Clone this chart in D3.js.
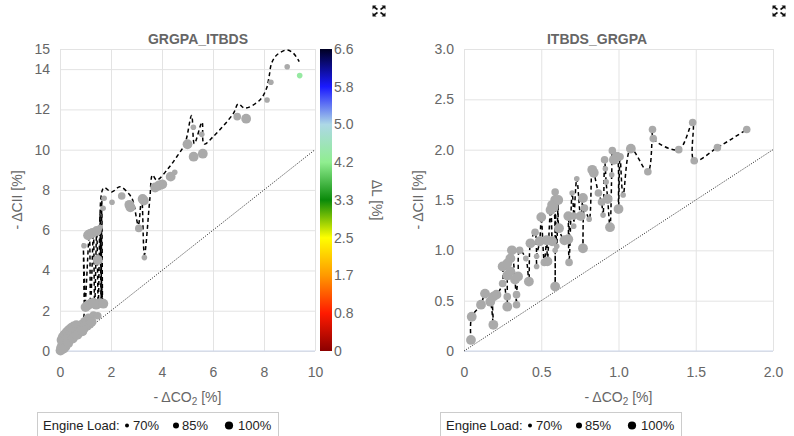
<!DOCTYPE html>
<meta charset="utf-8">
<head>
<style>
  *{margin:0;padding:0}
  body{width:794px;height:436px;background:#fff;overflow:hidden}
  svg{font-family:"Liberation Sans",Arial,sans-serif;display:block}
  .ax path{display:none}
  .ax line{stroke:#e3e3e3}
  .ax text{fill:#666;font-size:14px}
  .cb path,.cb line{display:none}
  .cb text{fill:#666;font-size:14px}
</style>
</head>
<body>
<svg id="chart" width="794" height="436"></svg>
<script src="https://cdn.jsdelivr.net/npm/d3@7"></script>
<script>
// ---- left panel: GRGPA_ITBDS ----
var leftX = [8.91,8.27,8.12,6.95,7.30,5.23,5.56,5.00,5.24,5.60,4.50,4.34,4.01,3.88,3.73,3.24,3.29,2.76,2.72,2.42,
  2.04,1.73,1.69,3.09,3.31,1.57,1.10,1.18,1.27,1.44,0.94,1.48,1.00,1.08,1.20,1.30,1.42,1.57,1.70,1.31,1.48,
  0.02,0.04,0.07,0.09,0.12,0.14,0.17,0.20,0.22,0.25,0.28,0.30,0.33,0.36,0.39,0.42,0.45,0.48,0.52,0.55,0.58,
  0.62,0.66,0.70,0.75,0.80,0.86,0.92,0.98,1.05,1.12,0.60,0.38,0.25,0.85,
  0.06,0.11,0.18,0.27,0.35,0.44,0.53,0.64,0.74,0.84,0.95,1.06,1.16,1.24,0.15,0.32,0.50,0.68,0.88];
var leftY = [14.12,13.35,12.47,11.64,11.54,11.11,10.76,10.27,9.65,9.80,8.88,8.66,8.28,8.22,8.12,7.55,7.47,7.14,7.26,7.70,
  7.39,7.59,7.09,6.09,4.64,6.14,5.75,5.82,5.86,5.96,5.23,4.52,2.18,2.26,2.35,2.40,2.30,2.38,2.35,1.79,1.75,
  0.02,0.15,0.08,0.32,0.18,0.45,0.28,0.55,0.36,0.68,0.48,0.78,0.58,0.88,0.66,1.02,0.74,0.95,0.82,1.08,0.88,
  1.15,0.96,1.08,1.20,1.25,1.30,1.35,1.45,1.52,1.62,0.75,0.50,0.20,1.10,
  0.55,0.70,0.82,0.95,1.05,1.15,1.22,1.28,1.02,1.05,1.15,1.25,1.35,1.45,0.12,0.38,0.62,0.80,0.98];
var leftLoad = [70,70,70,85,100,70,70,100,100,100,70,100,100,100,100,100,100,100,100,85,
  70,70,70,85,70,70,100,100,100,100,70,100,100,100,100,100,100,100,100,85,85,
  100,100,100,100,100,100,100,100,100,100,100,100,100,100,100,100,100,100,100,100,100,
  100,100,100,100,100,100,100,100,100,100,85,85,85,85,
  100,100,100,100,100,100,100,100,100,100,100,100,100,100,100,100,100,100,100];
// points that carry a Delta L value
var leftDLX = [9.40];
var leftDLY = [13.68];
var leftDLLoad = [70];
var leftDL = [4.3];
// dashed trend line
var leftLineX = [0,0.3,0.6,0.88,0.91,0.97,1.15,1.2,1.31,1.36,1.44,1.5,1.57,1.61,1.64,1.67,1.71,2.03,2.35,2.68,
  2.85,3.07,3.2,3.31,3.52,3.63,3.79,4.25,4.58,4.9,5.16,5.27,5.57,5.65,6.01,6.8,6.99,7.25,7.84,8.1,8.2,8.3,8.5,8.89,9.15,9.38];
var leftLineY = [0,0.45,0.85,1.3,5.4,2.1,5.8,2.2,5.9,2.2,6.0,2.3,6.8,2.3,7.5,2.3,8.1,7.9,8.16,7.83,
  7.5,6.26,7.66,4.77,7.5,8.74,8.49,9.08,9.65,10.3,11.7,10.3,11.36,10.28,10.65,11.8,12.27,12.06,12.47,13.05,13.63,14.3,14.7,14.95,14.79,14.37];
var leftXTicks = [0,2,4,6,8,10];
var leftYTicks = [0,2,4,6,8,10,12,14,15];

// ---- right panel: ITBDS_GRGPA ----
var rightX = [0.045,0.05,0.11,0.136,0.17,0.19,0.19,0.21,0.25,0.28,0.28,0.34,0.34,0.28,0.25,0.30,0.33,0.35,0.42,0.31,
  0.30,0.28,0.36,0.40,0.47,0.47,0.43,0.46,0.49,0.50,0.52,0.54,0.59,0.535,0.57,0.59,0.60,0.615,0.56,0.58,
  0.59,0.59,0.57,0.61,0.65,0.675,0.675,0.68,0.70,0.71,0.71,0.73,0.755,0.77,0.77,0.78,0.81,0.83,0.84,0.87,
  0.89,0.90,0.915,0.92,0.91,0.93,0.945,0.956,0.96,0.97,0.99,1.00,1.01,1.03,1.08,1.19,1.22,1.225,1.39,1.48,
  1.49,1.64,1.83];
var rightY = [0.11,0.34,0.46,0.57,0.49,0.26,0.54,0.56,0.67,0.44,0.54,0.46,0.56,0.75,0.84,0.79,0.71,0.74,0.69,1.00,
  0.92,0.87,1.00,0.92,0.84,0.94,1.07,1.18,1.09,1.33,0.88,0.89,0.64,1.10,1.09,1.00,1.04,1.22,1.40,1.43,
  1.50,1.58,1.45,1.50,1.10,1.11,1.34,0.88,1.57,1.34,1.24,1.71,1.34,1.52,1.02,1.42,1.31,1.80,1.77,1.57,
  1.48,1.35,1.81,1.68,1.90,1.51,1.23,1.75,1.99,1.90,1.93,1.41,1.93,1.55,2.01,1.78,2.20,2.11,2.00,2.27,
  1.89,2.02,2.20];
var rightLoad = [100,100,100,100,100,100,100,100,85,100,85,85,85,100,100,100,100,100,100,100,
  100,100,85,70,70,70,100,85,100,100,85,100,100,100,100,70,70,100,100,100,
  100,85,100,100,100,100,100,85,70,85,70,70,100,100,100,85,70,100,100,85,
  85,70,70,70,85,100,100,70,85,100,100,100,85,70,100,85,85,85,85,85,
  85,85,85];
var rightXTicks = [0,0.5,1.0,1.5,2.0];
var rightYTicks = [0,0.5,1.0,1.5,2.0,2.5,3.0];

// ---- shared ----
var loadLevels = [70,85,100];
var loadLabels = ["70%","85%","100%"];
var dlTicks = ["0","0.8","1.7","2.5","3.3","4.2","5.0","5.8","6.6"];
var dlMax = 6.6;
var dlColors = ["#8b0000","#ff1a00","#ff9900","#ffff00","#0a8a0a","#90ee90","#add8e6","#1a1aff","#000022"];

var svg = d3.select("#chart");
var rScale = d3.scaleOrdinal().domain(loadLevels).range([2.8,3.8,4.9]);
var dlScale = d3.scaleLinear().domain(d3.range(dlColors.length).map(function(i){ return i * dlMax / (dlColors.length - 1); })).range(dlColors);
var grey = "#aaaaaa";

function expandIcon(cx, cy){
  var g = svg.append("g").attr("transform", "translate(" + cx + "," + cy + ")");
  [[-1,-1],[1,-1],[-1,1],[1,1]].forEach(function(d){
    var ex = 6.5*d[0], ey = 5.5*d[1];
    g.append("path").attr("d", "M" + ex + "," + ey + "L" + (ex - 4*d[0]) + "," + ey + "L" + ex + "," + (ey - 4*d[1]) + "Z").attr("fill", "#111");
    g.append("line").attr("x1", 1.5*d[0]).attr("y1", 1.5*d[1]).attr("x2", ex - 1.5*d[0]).attr("y2", ey - 1.5*d[1])
      .attr("stroke", "#111").attr("stroke-width", 1.6);
  });
}

function panel(o){
  var x = d3.scaleLinear().domain(o.xDom).range([o.left, o.right]);
  var y = d3.scaleLinear().domain(o.yDom).range([o.bottom, o.top]);
  var g = svg.append("g");

  g.append("g").attr("class", "ax").attr("transform", "translate(0," + o.bottom + ")")
    .call(d3.axisBottom(x).tickValues(o.xTicks).tickSize(-(o.bottom - o.top)).tickPadding(16).tickFormat(o.fmt));
  g.append("g").attr("class", "ax").attr("transform", "translate(" + o.left + ",0)")
    .call(d3.axisLeft(y).tickValues(o.yTicks).tickSize(-(o.right - o.left)).tickPadding(10).tickFormat(o.fmt));
  g.append("line").attr("x1", o.left).attr("x2", o.right).attr("y1", o.bottom).attr("y2", o.bottom).attr("stroke", "#ccd6eb");

  // 1:1 reference line
  var dmax = Math.min(o.xDom[1], o.yDom[1]);
  g.append("line").attr("x1", x(0)).attr("y1", y(0)).attr("x2", x(dmax)).attr("y2", y(dmax))
    .attr("stroke", "#222").attr("stroke-width", 1).attr("stroke-dasharray", "1,1.5");

  var line = d3.line().x(function(d){ return x(d[0]); }).y(function(d){ return y(d[1]); }).curve(d3.curveCatmullRom.alpha(0.5));
  g.append("path").attr("d", line(d3.zip(o.lineX, o.lineY))).attr("fill", "none")
    .attr("stroke", "#000").attr("stroke-width", 1.5).attr("stroke-dasharray", "4,3");

  g.append("g").selectAll("circle").data(d3.zip(o.px, o.py, o.pl)).join("circle")
    .attr("cx", function(d){ return x(d[0]); }).attr("cy", function(d){ return y(d[1]); })
    .attr("r", function(d){ return rScale(d[2]); }).attr("fill", grey);
  if (o.cx) {
    g.append("g").selectAll("circle").data(d3.zip(o.cx, o.cy, o.cl, o.cv)).join("circle")
      .attr("cx", function(d){ return x(d[0]); }).attr("cy", function(d){ return y(d[1]); })
      .attr("r", function(d){ return rScale(d[2]); }).attr("fill", function(d){ return dlScale(d[3]); });
  }

  g.append("text").attr("x", o.mid).attr("y", 44).attr("text-anchor", "middle")
    .attr("font-size", 14).attr("font-weight", "bold").attr("fill", "#666").text(o.title);

  var xt = g.append("text").attr("x", (o.left + o.right) / 2).attr("y", 402).attr("text-anchor", "middle")
    .attr("font-size", 14).attr("fill", "#666");
  xt.append("tspan").text("- \u0394CO");
  xt.append("tspan").attr("font-size", 10).attr("dy", 3).text("2");
  xt.append("tspan").attr("dy", -3).text(" [%]");

  g.append("text").attr("transform", "translate(" + o.yTitleX + "," + ((o.top + o.bottom) / 2) + ") rotate(-90)")
    .attr("text-anchor", "middle").attr("font-size", 14).attr("fill", "#666").text("- \u0394CII [%]");

  // legend
  var lg = g.append("g").attr("transform", "translate(" + o.legX + ",412)");
  lg.append("rect").attr("x", 0.5).attr("y", 0.5).attr("width", 241).attr("height", 32)
    .attr("fill", "#fff").attr("stroke", "#ccc");
  lg.append("text").attr("x", 6).attr("y", 18).attr("font-size", 13).attr("fill", "#222").text("Engine Load:");
  var off = [90, 139, 192];
  loadLevels.forEach(function(l, i){
    lg.append("circle").attr("cx", off[i]).attr("cy", 13.5).attr("r", rScale(l) - 0.8).attr("fill", "#000");
    lg.append("text").attr("x", off[i] + 6 + (i == 2 ? 3 : 0)).attr("y", 18).attr("font-size", 13).attr("fill", "#222").text(loadLabels[i]);
  });

  expandIcon(o.iconX, 11);
  return {x: x, y: y};
}

panel({
  title: "GRGPA_ITBDS", mid: 198, left: 60, right: 315, top: 49, bottom: 351,
  xDom: [0, 10], yDom: [0, 15], xTicks: leftXTicks, yTicks: leftYTicks,
  fmt: function(d){ return String(d); },
  px: leftX, py: leftY, pl: leftLoad, cx: leftDLX, cy: leftDLY, cl: leftDLLoad, cv: leftDL,
  lineX: leftLineX, lineY: leftLineY, yTitleX: 22, legX: 37, iconX: 379
});

var rOrder = d3.range(rightX.length).sort(function(a, b){ return rightX[a] - rightX[b]; });
panel({
  title: "ITBDS_GRGPA", mid: 597, left: 464, right: 773, top: 49, bottom: 351,
  xDom: [0, 2], yDom: [0, 3], xTicks: rightXTicks, yTicks: rightYTicks,
  fmt: function(d){ return d === 0 ? "0" : d.toFixed(1); },
  px: rightX, py: rightY, pl: rightLoad,
  lineX: rOrder.map(function(i){ return rightX[i]; }), lineY: rOrder.map(function(i){ return rightY[i]; }),
  yTitleX: 423, legX: 440, iconX: 779
});

// colour bar for Delta L
var defs = svg.append("defs");
var grad = defs.append("linearGradient").attr("id", "dlgrad").attr("x1", 0).attr("y1", 1).attr("x2", 0).attr("y2", 0);
dlColors.forEach(function(c, i){
  grad.append("stop").attr("offset", (i / (dlColors.length - 1) * 100) + "%").attr("stop-color", c);
});
svg.append("rect").attr("x", 320).attr("y", 49).attr("width", 12).attr("height", 302).attr("fill", "url(#dlgrad)");
var cbScale = d3.scalePoint().domain(dlTicks).range([351, 49]);
svg.append("g").attr("class", "cb").attr("transform", "translate(332,0)")
  .call(d3.axisRight(cbScale).tickSize(0).tickPadding(2));
svg.append("text").attr("transform", "translate(372,200) rotate(90)").attr("text-anchor", "middle")
  .attr("font-size", 14).attr("fill", "#666").text("\u0394L [%]");
</script>
</body>
